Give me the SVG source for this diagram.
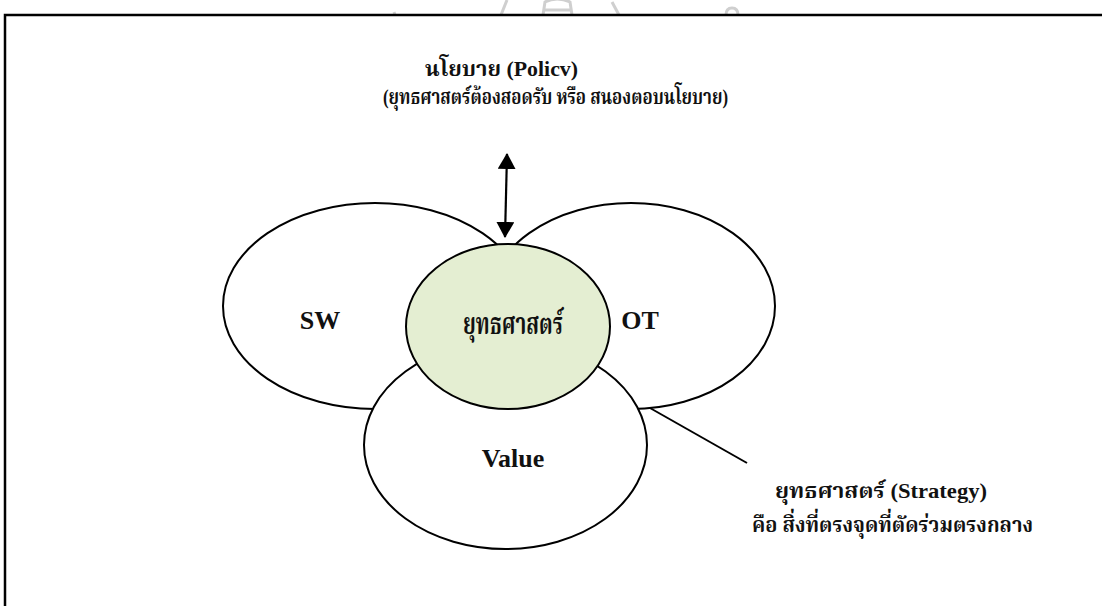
<svg xmlns="http://www.w3.org/2000/svg" width="1102" height="606" viewBox="0 0 1102 606">
  <style>
    .bubble { fill: #ffffff; stroke: #000000; stroke-width: 2; }
    .core { fill: #e4eed2; stroke: #000000; stroke-width: 2; }
    .lbl { font-family: 'Liberation Serif', 'Noto Serif Thai', 'Noto Sans Thai', 'DejaVu Serif', serif; font-weight: bold; fill: #111111; }
    .big { font-size: 26px; }
    .small { font-size: 21px; }
    .thai { font-size: 22px; }
    .mark { fill: none; stroke: #cfcfcf; stroke-width: 3; }
  </style>
  <defs>
    <marker id="head" viewBox="0 0 16 18" refX="15" refY="9" markerWidth="16" markerHeight="18" markerUnits="userSpaceOnUse" orient="auto-start-reverse">
      <path d="M0,0 L16,9 L0,18 Z" fill="#000000"/>
    </marker>
  </defs>

  <rect width="1102" height="606" fill="#ffffff"/>

  <!-- faint seal fragments above the frame -->
  <g id="seal">
    <path class="mark" d="M394,12 L395,15"/>
    <path class="mark" d="M501,15 L507,0"/>
    <path class="mark" d="M543,15 L545,2 Q557,-4 570,2 L572,15"/>
    <path class="mark" d="M545,10 L571,10"/>
    <path class="mark" d="M612,2 L619,15"/>
    <path class="mark" d="M726,15 Q726,8 732,8 Q738,8 738,15"/>
  </g>

  <!-- frame -->
  <path d="M5,606 V15 H1102" fill="none" stroke="#000000" stroke-width="2.5"/>

  <g id="node-sw">
    <ellipse class="bubble" cx="375" cy="306" rx="152" ry="103"/>
    <text class="lbl big" x="320" y="329" text-anchor="middle">SW</text>
  </g>
  <g id="node-ot">
    <ellipse class="bubble" cx="631" cy="306" rx="144" ry="103"/>
    <text class="lbl big" x="640" y="329" text-anchor="middle">OT</text>
  </g>
  <g id="node-value">
    <ellipse class="bubble" cx="505.5" cy="445" rx="141.5" ry="104"/>
    <text class="lbl big" x="513" y="467" text-anchor="middle">Value</text>
  </g>
  <g id="node-strategy">
    <ellipse class="core" cx="508" cy="326.5" rx="102" ry="82.5"/>
    <text class="lbl" font-size="30" x="463" y="334" textLength="100" lengthAdjust="spacingAndGlyphs">ยุทธศาสตร์</text>
  </g>

  <g id="node-policy">
    <text class="lbl small" x="425" y="76" textLength="153" lengthAdjust="spacingAndGlyphs">นโยบาย (Policv)</text>
    <text class="lbl thai" x="383" y="104" textLength="345" lengthAdjust="spacingAndGlyphs">(ยุทธศาสตร์ต้องสอดรับ หรือ สนองตอบนโยบาย)</text>
  </g>

  <g id="note-strategy">
    <text class="lbl thai" x="775" y="498" textLength="212" lengthAdjust="spacingAndGlyphs">ยุทธศาสตร์ (Strategy)</text>
    <text class="lbl thai" x="752" y="532" textLength="281" lengthAdjust="spacingAndGlyphs">คือ สิ่งที่ตรงจุดที่ตัดร่วมตรงกลาง</text>
  </g>

  <g id="connectors">
    <line x1="507" y1="154" x2="505" y2="237" stroke="#000000" stroke-width="2.2" marker-start="url(#head)" marker-end="url(#head)"/>
    <line x1="650" y1="408" x2="747" y2="463" stroke="#000000" stroke-width="2"/>
  </g>
</svg>
